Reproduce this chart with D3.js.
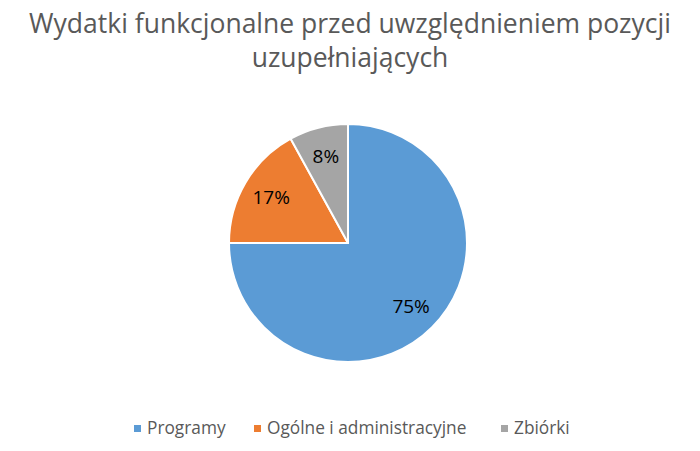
<!DOCTYPE html>
<html><head><meta charset="utf-8">
<script src="https://cdn.jsdelivr.net/npm/d3@7"></script>
<style>body{margin:0;background:#fff}svg{display:block}</style>
</head><body>
<svg id="c" width="700" height="451"></svg>
<script>
const categories = ["Programy", "Ogólne i administracyjne", "Zbiórki"];
const values = [75, 17, 8];
const colors = ["#5B9BD5", "#ED7D31", "#A5A5A5"];
const titleLines = ["Wydatki funkcjonalne przed uwzględnieniem pozycji", "uzupełniających"];

const svg = d3.select("#c");
const font = "'Open Sans', sans-serif";
const cx = 348, cy = 243, r = 119;

svg.append("g").selectAll("text").data(titleLines).join("text")
  .attr("x", 350).attr("y", (d, i) => 33 + i * 34)
  .attr("text-anchor", "middle")
  .attr("font-family", font).attr("font-size", 26.5)
  .attr("fill", "#595959").text(d => d);

const pie = d3.pie().sort(null).value(d => d);
const arcs = pie(values);
const arc = d3.arc().innerRadius(0).outerRadius(r);
const labelArc = d3.arc().innerRadius(r * 0.75).outerRadius(r * 0.75);

const g = svg.append("g").attr("transform", `translate(${cx},${cy})`);
g.selectAll("path").data(arcs).join("path")
  .attr("d", arc).attr("fill", (d, i) => colors[i])
  .attr("stroke", "#fff").attr("stroke-width", 2).attr("stroke-linejoin", "round");

g.selectAll("text").data(arcs).join("text")
  .attr("transform", d => `translate(${labelArc.centroid(d)})`)
  .attr("text-anchor", "middle").attr("dy", "0.35em")
  .attr("font-family", font).attr("font-size", 19).attr("fill", "#000")
  .text(d => d3.format(".0%")(d.data / 100));

const legendX = [134, 254, 501];
const lg = svg.append("g").selectAll("g").data(categories).join("g")
  .attr("transform", (d, i) => `translate(${legendX[i]},428)`);
lg.append("rect").attr("x", 0).attr("y", -3).attr("width", 7).attr("height", 7)
  .attr("fill", (d, i) => colors[i]);
lg.append("text").attr("x", 13).attr("y", 0).attr("dy", "0.35em")
  .attr("font-family", font).attr("font-size", 17.3).attr("fill", "#595959")
  .text(d => d);
</script>
</body></html>
